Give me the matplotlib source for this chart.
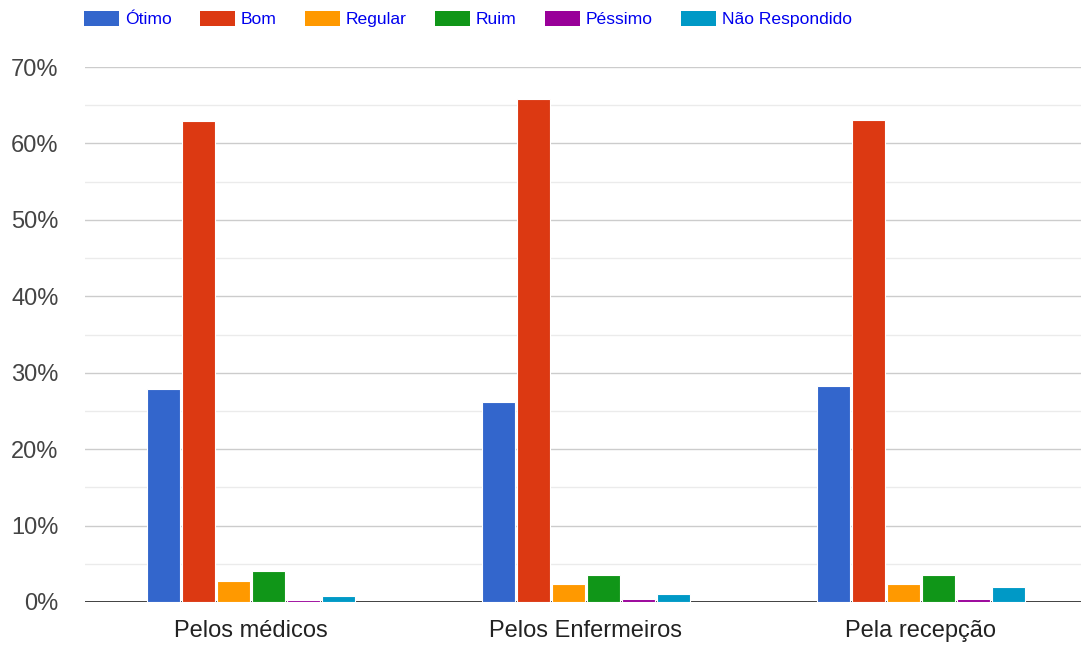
import numpy as np
import matplotlib.pyplot as plt
from matplotlib.patches import Patch

plt.rcParams['font.family'] = ['Liberation Sans', 'DejaVu Sans']

categorias = ["Pelos médicos", "Pelos Enfermeiros", "Pela recepção"]
series = ["Ótimo", "Bom", "Regular", "Ruim", "Péssimo", "Não Respondido"]
otimo = [27.9, 26.2, 28.3]
bom = [62.9, 65.8, 63.1]
regular = [2.8, 2.4, 2.4]
ruim = [4.0, 3.5, 3.5]
pessimo = [0.2, 0.4, 0.4]
nao_resp = [0.8, 1.0, 1.9]
valores = [otimo, bom, regular, ruim, pessimo, nao_resp]
cores = ["#3366cc", "#dc3912", "#ff9900", "#109618", "#990099", "#0099c6"]

fig = plt.figure(figsize=(10.81, 6.48), dpi=100)
ax = fig.add_axes([85 / 1081, 1 - 602 / 648, 1 - 85 / 1081, (602 - 67) / 648])

x = np.arange(len(categorias))
largura = 0.0985
passo = 0.1045
for i, (nome, vals) in enumerate(zip(series, valores)):
    pos = x + (i - 2.5) * passo
    ax.bar(pos, vals, width=largura, color=cores[i], edgecolor="white",
           linewidth=0.8, zorder=3, label=nome)

# o grafico original foi cortado na direita
ax.set_xlim(-0.495, -0.495 + 996 / 335)
ax.set_ylim(0, 70)
ax.set_yticks(range(0, 71, 10))
ax.set_yticklabels([f"{v}%" for v in range(0, 71, 10)])
ax.set_yticks(range(5, 70, 10), minor=True)
ax.grid(axis="y", which="major", color="#cccccc", linewidth=1, zorder=0)
ax.grid(axis="y", which="minor", color="#ebebeb", linewidth=1, zorder=0)
ax.axhline(0, color="#333333", linewidth=1.3, zorder=2)

ax.set_xticks(x)
ax.set_xticklabels(categorias)
ax.tick_params(axis="x", length=0, pad=13, labelsize=17, labelcolor="#222222")
ax.tick_params(axis="y", which="both", length=0, pad=19, labelsize=17, labelcolor="#444444")
for s in ax.spines.values():
    s.set_visible(False)

handles = [Patch(facecolor=c, label=n) for c, n in zip(cores, series)]
leg = fig.legend(handles=handles, loc="upper left", bbox_to_anchor=(68 / 1081, 1.008),
                 ncol=6, frameon=False, fontsize=12.6, handlelength=2.0,
                 handleheight=1.0, handletextpad=0.35, columnspacing=1.6)
for t in leg.get_texts():
    t.set_color("#0000ee")

fig.savefig("out.png", dpi=100)
